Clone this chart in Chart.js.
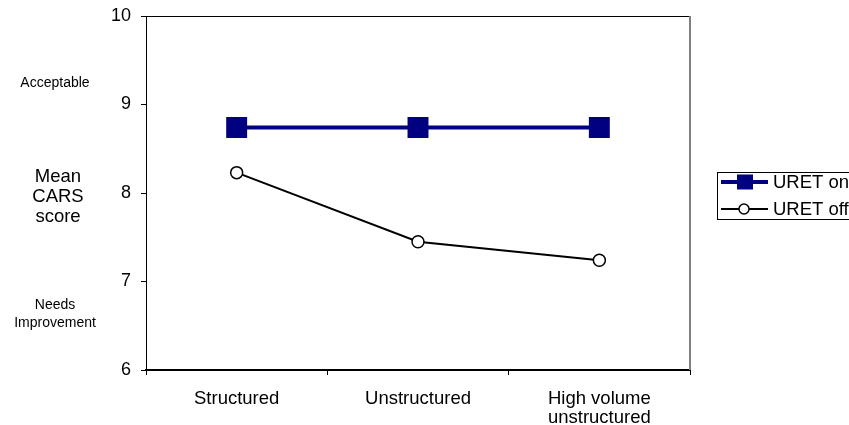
<!DOCTYPE html>
<html>
<head>
<meta charset="utf-8">
<script src="https://cdn.jsdelivr.net/npm/chart.js@4"></script>
<style>
  html, body { margin: 0; padding: 0; background: #fff; }
  #wrap { width: 849px; height: 425px; }
</style>
</head>
<body>
<div id="wrap"><canvas id="myChart" width="849" height="425"></canvas></div>
<script>
var categories = [['Structured'], ['Unstructured'], ['High volume', 'unstructured']];
var uretOn = [8.74, 8.74, 8.74];
var uretOff = [8.23, 7.45, 7.24];
var yTicks = [6, 7, 8, 9, 10];
var sideLabels = [
  { lines: ['Acceptable'], value: 9.24, size: 14, lh: 18, x: 55 },
  { lines: ['Mean', 'CARS', 'score'], value: 7.96, size: 18.5, lh: 20, x: 58 },
  { lines: ['Needs', 'Improvement'], value: 6.63, size: 14, lh: 18, x: 55 }
];

var FONT = '"Liberation Sans", Arial, sans-serif';

// frame, side labels and the boxed legend
var extras = {
  id: 'extras',
  afterDraw: function(chart) {
    var ctx = chart.ctx;
    var a = chart.chartArea;
    var y = chart.scales.y;
    ctx.save();
    // top + right border
    ctx.strokeStyle = '#000';
    ctx.lineWidth = 1;
    ctx.beginPath();
    ctx.moveTo(a.left, a.top + 0.5);
    ctx.lineTo(a.right, a.top + 0.5);
    ctx.stroke();
    ctx.strokeStyle = '#808080';
    ctx.lineWidth = 2;
    ctx.beginPath();
    ctx.moveTo(a.right, a.top);
    ctx.lineTo(a.right, a.bottom);
    ctx.stroke();

    // side labels
    ctx.fillStyle = '#000';
    ctx.textAlign = 'center';
    ctx.textBaseline = 'middle';
    sideLabels.forEach(function(s) {
      ctx.font = s.size + 'px ' + FONT;
      var cy = y.getPixelForValue(s.value) - (s.lines.length - 1) * s.lh / 2;
      s.lines.forEach(function(t, i) {
        ctx.fillText(t, s.x, cy + i * s.lh);
      });
    });

    // legend
    var lx = 717, ly = 172, lw = 140, lh2 = 47;
    ctx.strokeStyle = '#000';
    ctx.lineWidth = 1;
    ctx.strokeRect(lx + 0.5, ly + 0.5, lw, lh2);
    ctx.textAlign = 'left';
    ctx.font = '18.5px ' + FONT;
    chart.data.datasets.forEach(function(ds, i) {
      var cy = ly + 10 + i * 27;
      ctx.strokeStyle = ds.borderColor;
      ctx.lineWidth = ds.borderWidth;
      ctx.beginPath();
      ctx.moveTo(lx + 4, cy);
      ctx.lineTo(lx + 51, cy);
      ctx.stroke();
      if (i === 0) {
        ctx.fillStyle = ds.pointBackgroundColor;
        ctx.fillRect(lx + 20, cy - 7.5, 16, 15);
      } else {
        ctx.fillStyle = '#fff';
        ctx.strokeStyle = '#000';
        ctx.lineWidth = 1.5;
        ctx.beginPath();
        ctx.arc(lx + 27, cy, 5, 0, Math.PI * 2);
        ctx.fill();
        ctx.stroke();
      }
      ctx.fillStyle = '#000';
      ctx.fillText(ds.label, lx + 56, cy + 1);
    });
    ctx.restore();
  }
};

var ctx = document.getElementById('myChart').getContext('2d');
var myChart = new Chart(ctx, {
  type: 'line',
  data: {
    labels: categories,
    datasets: [
      {
        label: 'URET on',
        data: uretOn,
        borderColor: '#000080',
        backgroundColor: '#000080',
        borderWidth: 4,
        pointStyle: 'rect',
        pointRadius: 14.8,
        pointBackgroundColor: '#000080',
        pointBorderColor: '#000080',
        pointBorderWidth: 0,
        fill: false
      },
      {
        label: 'URET off',
        data: uretOff,
        borderColor: '#000',
        backgroundColor: '#fff',
        borderWidth: 2,
        pointStyle: 'circle',
        pointRadius: 6,
        pointBackgroundColor: '#fff',
        pointBorderColor: '#000',
        pointBorderWidth: 1.5,
        fill: false
      }
    ]
  },
  options: {
    responsive: false,
    animation: false,
    layout: { padding: { left: 0, top: 16, right: 159, bottom: 0 } },
    plugins: {
      legend: { display: false },
      title: { display: false },
      tooltip: { enabled: false }
    },
    scales: {
      x: {
        offset: true,
        grid: { offset: true, drawOnChartArea: false, color: '#000', tickLength: 5 },
        border: { color: '#000', width: 2 },
        ticks: { color: '#000', font: { family: FONT, size: 18.5, lineHeight: 1.05 }, padding: 14, maxRotation: 0 },
        afterFit: function(s) { s.height = 55; s.paddingLeft = 0; s.paddingRight = 0; }
      },
      y: {
        min: 6,
        max: 10,
        afterBuildTicks: function(s) { s.ticks = yTicks.map(function(v) { return { value: v }; }); },
        grid: { drawOnChartArea: false, color: '#000', tickLength: 5 },
        border: { color: '#000', width: 1 },
        ticks: { color: '#000', font: { family: FONT, size: 18 }, padding: 10 },
        afterFit: function(s) { s.width = 146; s.paddingTop = 0; s.paddingBottom = 0; }
      }
    }
  },
  plugins: [extras]
});
</script>
</body>
</html>
